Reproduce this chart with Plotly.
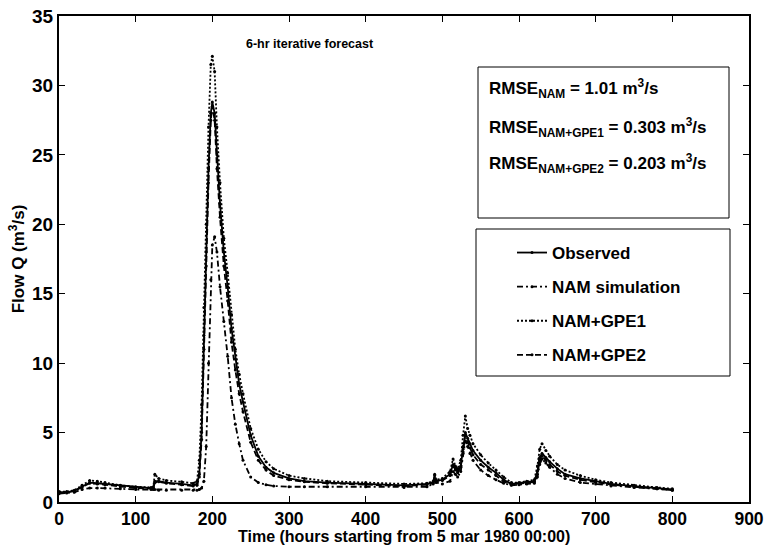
import plotly.graph_objects as go

# ---- data (hours since 5 Mar 1980 00:00, flow in m3/s) ----
time_h = [0, 10, 20, 30, 40, 50, 60, 80, 100, 120, 123, 125, 130, 140, 160, 175, 180, 183, 186, 189,
          192, 195, 198, 200, 203, 206, 210, 215, 220, 225, 230, 235, 240, 250, 260, 270, 280, 300,
          320, 350, 400, 450, 480, 488, 490, 492, 500, 510, 514, 517, 520, 524, 527, 530, 533, 536,
          540, 550, 560, 570, 580, 590, 600, 610, 620, 624, 627, 630, 635, 640, 650, 660, 680, 700,
          720, 750, 780, 800]

observed = [0.7, 0.7, 0.8, 1.1, 1.4, 1.35, 1.3, 1.15, 1.05, 1.0, 1.0, 1.5, 1.5, 1.4, 1.3, 1.2, 1.3, 2.0, 5.0, 12.0,
            18.0, 24.0, 28.0, 28.8, 28.0, 25.0, 21.5, 18.0, 15.5, 12.5, 10.3, 8.5, 7.2, 4.8, 3.3, 2.5, 2.1, 1.7,
            1.5, 1.4, 1.3, 1.2, 1.3, 1.4, 1.6, 1.5, 1.6, 2.0, 2.7, 2.4, 2.2, 2.6, 4.0, 5.0, 4.6, 4.2,
            3.7, 3.0, 2.5, 2.1, 1.6, 1.3, 1.35, 1.4, 1.5, 2.2, 3.2, 3.5, 3.2, 2.9, 2.4, 2.0, 1.7, 1.5,
            1.3, 1.15, 1.0, 0.9]

nam_sim = [0.6, 0.65, 0.7, 0.9, 1.0, 1.0, 1.0, 0.95, 0.9, 0.9, 0.9, 0.9, 0.85, 0.85, 0.85, 0.85, 0.85, 0.9, 1.0, 1.5,
           4.0, 10.0, 16.0, 18.5, 19.1, 18.0, 15.5, 13.0, 10.5, 7.5, 5.6, 4.2, 3.0, 1.8, 1.4, 1.25, 1.15, 1.1,
           1.1, 1.1, 1.1, 1.05, 1.1, 1.3, 2.0, 1.4, 1.3, 1.5, 2.2, 2.0, 1.8, 2.2, 3.5, 4.4, 4.0, 3.5,
           3.0, 2.3, 1.9, 1.6, 1.35, 1.2, 1.25, 1.3, 1.35, 1.8, 2.7, 3.1, 2.8, 2.5, 2.0, 1.7, 1.4, 1.3,
           1.15, 1.05, 0.95, 0.85]

nam_gpe1 = [0.75, 0.75, 0.85, 1.2, 1.55, 1.5, 1.4, 1.2, 1.1, 1.05, 1.1, 2.0, 1.7, 1.55, 1.45, 1.35, 1.5, 3.0, 7.0, 14.0,
            20.0, 27.0, 31.5, 32.1, 31.0, 27.0, 23.0, 19.0, 16.5, 13.5, 11.0, 9.2, 7.8, 5.3, 3.8, 2.9, 2.4, 1.9,
            1.7, 1.5, 1.4, 1.3, 1.35, 1.5, 1.9, 1.6, 1.7, 2.2, 3.1, 2.6, 2.4, 3.0, 4.8, 6.2, 5.3, 4.8,
            4.2, 3.4, 2.8, 2.3, 1.8, 1.4, 1.4, 1.5, 1.6, 2.6, 3.8, 4.2, 3.7, 3.3, 2.7, 2.3, 1.9, 1.6,
            1.4, 1.2, 1.05, 0.95]

nam_gpe2 = [0.7, 0.7, 0.8, 1.05, 1.35, 1.3, 1.25, 1.1, 1.0, 0.98, 0.98, 1.4, 1.45, 1.35, 1.25, 1.15, 1.2, 1.8, 4.5, 11.0,
            17.0, 23.0, 27.5, 28.5, 27.5, 24.0, 20.5, 17.0, 14.5, 11.5, 9.5, 7.8, 6.5, 4.3, 3.0, 2.3, 1.9, 1.6,
            1.45, 1.35, 1.25, 1.15, 1.25, 1.35, 1.7, 1.45, 1.55, 1.9, 2.6, 2.3, 2.1, 2.5, 3.8, 4.8, 4.3, 3.9,
            3.4, 2.7, 2.3, 1.9, 1.5, 1.25, 1.3, 1.35, 1.45, 2.0, 3.0, 3.3, 3.0, 2.7, 2.2, 1.9, 1.6, 1.4,
            1.25, 1.1, 0.95, 0.85]

series_names = ["Observed", "NAM simulation", "NAM+GPE1", "NAM+GPE2"]
series_values = [observed, nam_sim, nam_gpe1, nam_gpe2]
series_dash = ["solid", "6px,3px,2px,3px", "2px,2px", "6px,3px"]

x_ticks = [0, 100, 200, 300, 400, 500, 600, 700, 800, 900]
y_ticks = [0, 5, 10, 15, 20, 25, 30, 35]

x_title = "Time (hours starting from 5 mar 1980 00:00)"
y_title = "Flow Q (m<sup>3</sup>/s)"
rmse_lines = ["RMSE<sub>NAM</sub> = 1.01 m<sup>3</sup>/s",
              "RMSE<sub>NAM+GPE1</sub> = 0.303 m<sup>3</sup>/s",
              "RMSE<sub>NAM+GPE2</sub> = 0.203 m<sup>3</sup>/s"]

FONT = "Liberation Sans"

fig = go.Figure()
for i, (name, vals, dash) in enumerate(zip(series_names, series_values, series_dash)):
    fig.add_trace(go.Scatter(
        x=time_h, y=vals, name=name, mode="lines+markers",
        line=dict(color="black", width=1.8, dash=dash),
        marker=dict(color="black", size=3),
        legendgroup=f"g{i}",
    ))

W, H = 765, 545
L, R, T, B = 59, 16, 16, 43
pw, ph = W - L - R, H - T - B

def px(xp):
    return (xp - L) / pw

def py(yp):
    return (H - B - yp) / ph

fig.update_layout(
    width=W, height=H,
    margin=dict(l=L, r=R, t=T, b=B),
    paper_bgcolor="white", plot_bgcolor="white",
    font=dict(family=FONT, color="black", weight="bold"),
    showlegend=True,
    legend=dict(
        x=px(512), y=py(235), xanchor="left", yanchor="top",
        bgcolor="rgba(0,0,0,0)", borderwidth=0,
        font=dict(family=FONT, size=17, color="black", weight="bold"),
        tracegroupgap=9,
    ),
)

fig.update_xaxes(
    range=[0, 900], tickvals=x_ticks, ticktext=[str(v) for v in x_ticks],
    showgrid=False, zeroline=False, showline=True, linecolor="black", linewidth=2,
    mirror="ticks", ticks="inside", ticklen=6, tickwidth=1, tickcolor="black",
    tickfont=dict(family=FONT, size=17.5, weight="bold"),
    automargin=False,
)
fig.update_yaxes(
    range=[0, 35], tickvals=y_ticks, ticktext=[str(v) for v in y_ticks],
    showgrid=False, zeroline=False, showline=True, linecolor="black", linewidth=2,
    mirror="ticks", ticks="inside", ticklen=6, tickwidth=1, tickcolor="black",
    tickfont=dict(family=FONT, size=19, weight="bold"),
    title=dict(text=y_title, font=dict(family=FONT, size=17, weight="bold"), standoff=3),
    automargin=False,
)

# x-axis title as annotation (placed just under the tick labels)
fig.add_annotation(x=0.5, y=py(536), xref="paper", yref="paper", text=x_title,
                   showarrow=False, xanchor="center", yanchor="middle",
                   font=dict(family=FONT, size=16, weight="bold"))

# title inside plot
fig.add_annotation(x=327, y=33, xref="x", yref="y", text="6-hr iterative forecast",
                   showarrow=False, font=dict(family=FONT, size=12.5, weight="bold"))

# RMSE box
fig.add_shape(type="rect", xref="paper", yref="paper",
              x0=px(478), x1=px(729), y0=py(218), y1=py(67),
              line=dict(color="black", width=1), fillcolor="white", layer="above")
for txt, yp in zip(rmse_lines, [88, 127, 163]):
    fig.add_annotation(x=px(487), y=py(yp), xref="paper", yref="paper", text=txt,
                       showarrow=False, xanchor="left", yanchor="middle",
                       font=dict(family=FONT, size=17, weight="bold"))

# legend box
fig.add_shape(type="rect", xref="paper", yref="paper",
              x0=px(476), x1=px(730), y0=py(376), y1=py(229),
              line=dict(color="black", width=1), layer="above")

fig.write_html("out.html")
